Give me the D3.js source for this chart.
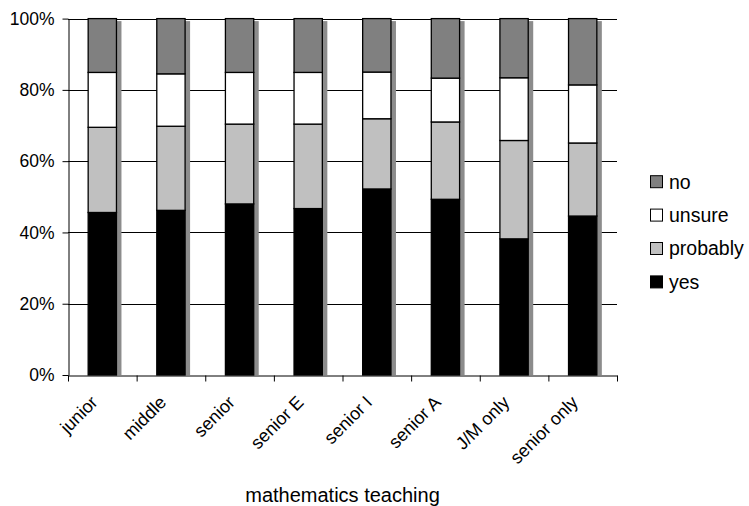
<!DOCTYPE html>
<html>
<head>
<meta charset="utf-8">
<script src="https://cdn.jsdelivr.net/npm/d3@7"></script>
<style>
  html, body { margin: 0; padding: 0; background: #fff; }
  svg { display: block; font-family: "Liberation Sans", Arial, sans-serif; }
</style>
</head>
<body>
<script>
var categories = ["junior", "middle", "senior", "senior E", "senior I", "senior A", "J/M only", "senior only"];
var yes      = [45.6, 46.2, 48.0, 46.7, 52.2, 49.3, 38.2, 44.6];
var probably = [23.9, 23.6, 22.4, 23.7, 19.7, 21.7, 27.6, 20.5];
var unsure   = [15.4, 14.7, 14.5, 14.5, 13.1, 12.3, 17.6, 16.3];
var no       = [15.1, 15.5, 15.1, 15.1, 15.0, 16.7, 16.6, 18.6];
var seriesNames = ["yes", "probably", "unsure", "no"];
var yTicks = [0, 20, 40, 60, 80, 100];
var xTitle = "mathematics teaching";

document.addEventListener("DOMContentLoaded", function() {
    var width = 749, height = 506,
        left = 68, right = 617, top = 18.6, bottom = 375,
        colors = { yes: "#000000", probably: "#c0c0c0", unsure: "#ffffff", no: "#808080" },
        values = { yes: yes, probably: probably, unsure: unsure, no: no };

    var svg = d3.select("body").append("svg")
        .attr("width", width)
        .attr("height", height);

    var rows = categories.map(function(c, i) {
        var r = { cat: c };
        seriesNames.forEach(function(s) { r[s] = values[s][i]; });
        return r;
    });
    var stacked = d3.stack().keys(seriesNames)(rows);

    var x = d3.scaleBand().domain(categories).range([left, right])
        .paddingInner(0.5876).paddingOuter(0.2938);
    var xb = d3.scaleLinear().domain([0, categories.length]).range([left, right]);
    var y = d3.scaleLinear().domain([0, 100]).range([bottom, top]);

    // gridlines
    svg.append("g").selectAll("line")
        .data(yTicks.slice(1))
        .join("line")
        .attr("x1", left).attr("x2", right)
        .attr("y1", function(d) { return Math.round(y(d)) + 0.5; })
        .attr("y2", function(d) { return Math.round(y(d)) + 0.5; })
        .attr("stroke", "#000").attr("stroke-width", 1);

    // bar shadows
    svg.append("g").selectAll("rect")
        .data(rows)
        .join("rect")
        .attr("x", function(d) { return x(d.cat) + 5; })
        .attr("y", y(100) + 2.5)
        .attr("width", x.bandwidth())
        .attr("height", bottom - y(100) - 2.5)
        .attr("fill", "#8c8c8c");

    // stacked segments
    svg.append("g").selectAll("g")
        .data(stacked)
        .join("g")
        .attr("fill", function(s) { return colors[s.key]; })
        .selectAll("rect")
        .data(function(s) { return s; })
        .join("rect")
        .attr("x", function(d) { return x(d.data.cat); })
        .attr("y", function(d) { return y(d[1]); })
        .attr("width", x.bandwidth())
        .attr("height", function(d) { return y(d[0]) - y(d[1]); })
        .attr("stroke", "#000")
        .attr("stroke-width", 1.3);

    // y axis
    var yAxis = svg.append("g")
        .attr("transform", "translate(" + (left + 0.5) + ",0)")
        .call(d3.axisLeft(y).tickValues(yTicks).tickFormat(function(d) { return d + "%"; })
            .tickSize(6).tickSizeOuter(0).tickPadding(8));
    yAxis.selectAll("path, line").attr("stroke", "#000");
    yAxis.selectAll("text").attr("font-size", 17.5).attr("fill", "#000")
        .attr("font-family", "Liberation Sans, Arial, sans-serif");

    // x axis (ticks at category boundaries)
    var xAxis = svg.append("g")
        .attr("transform", "translate(0," + (bottom + 0.5) + ")")
        .call(d3.axisBottom(xb).tickValues(d3.range(categories.length + 1))
            .tickFormat("").tickSize(6).tickSizeOuter(0));
    xAxis.selectAll("path, line").attr("stroke", "#000");

    // category labels
    svg.append("g").selectAll("text")
        .data(categories)
        .join("text")
        .attr("transform", function(c) {
            return "translate(" + (x(c) + x.bandwidth() / 2 - 8) + "," + 399 + ") rotate(-45)";
        })
        .attr("text-anchor", "end")
        .attr("dy", "0.35em")
        .attr("font-size", 18)
        .text(function(c) { return c; });

    // axis title
    svg.append("text")
        .attr("x", (left + right) / 2)
        .attr("y", 502)
        .attr("text-anchor", "middle")
        .attr("font-size", 20)
        .text(xTitle);

    // legend
    var legend = svg.append("g").selectAll("g")
        .data(seriesNames.slice().reverse())
        .join("g")
        .attr("transform", function(d, i) { return "translate(650," + (181.7 + i * 33.4) + ")"; });
    legend.append("rect")
        .attr("x", 0.5).attr("y", -6)
        .attr("width", 12).attr("height", 12)
        .attr("fill", function(d) { return colors[d]; })
        .attr("stroke", "#000").attr("stroke-width", 1);
    legend.append("text")
        .attr("x", 19)
        .attr("dy", "0.35em")
        .attr("font-size", 19.5)
        .text(function(d) { return d; });
});
</script>
</body>
</html>
